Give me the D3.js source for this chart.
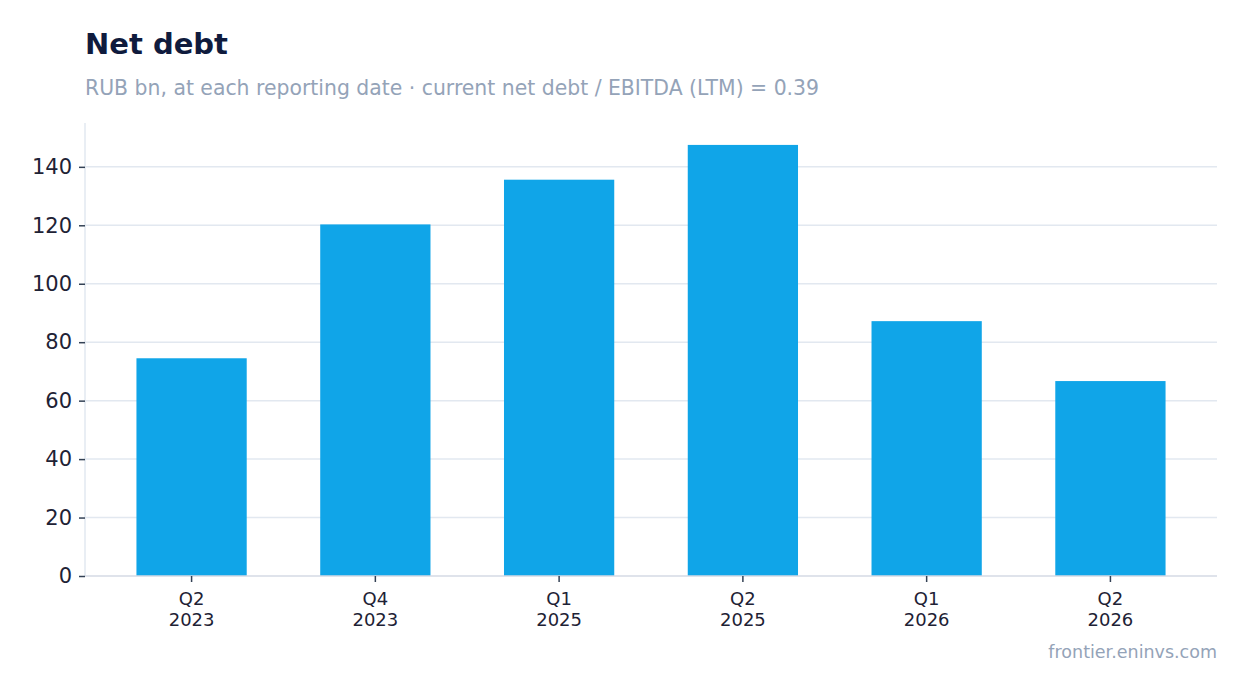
<!DOCTYPE html>
<head>
    <title>Net debt</title>
</head>
<meta charset="utf-8">

<script src="https://d3js.org/d3.v7.min.js"></script>

<style>
  body { margin: 0; background: #fff; }
  text { font-family: "DejaVu Sans", sans-serif; }
</style>

<div id="my_dataviz"></div>
<body>
    <script>

    var quarters = ["Q2", "Q4", "Q1", "Q2", "Q1", "Q2"]
    var years = ["2023", "2023", "2025", "2025", "2026", "2026"]
    var netDebt = [74.5, 120.3, 135.6, 147.5, 87.2, 66.7]
    var yTicks = [0, 20, 40, 60, 80, 100, 120, 140]

    var margin = {top: 123, right: 30, bottom: 117, left: 85},
      width = 1247 - margin.left - margin.right,
      height = 693 - margin.top - margin.bottom;

    var root = d3.select("#my_dataviz")
    .append("svg")
      .attr("width", 1247)
      .attr("height", 693)

    var svg = root.append("g")
      .attr("transform", "translate(" + margin.left + "," + margin.top + ")");

    var keys = netDebt.map(function(d, i) { return i })

    var x = d3.scaleBand()
      .domain(keys)
      .range([0, width])
      .paddingInner(0.4)
      .paddingOuter(0.28)

    var y = d3.scaleLinear()
      .domain([0, 155])
      .range([height, 0])

    // gridlines
    svg.selectAll("grid")
      .data(yTicks.filter(function(t) { return t > 0 }))
      .enter()
      .append("line")
        .attr("x1", 0)
        .attr("x2", width)
        .attr("y1", function(d) { return y(d) })
        .attr("y2", function(d) { return y(d) })
        .style("stroke", "#e2e8f0")
        .style("stroke-width", 1.5)

    // left axis line
    svg.append("line")
      .attr("x1", 0).attr("x2", 0)
      .attr("y1", 0).attr("y2", height)
      .style("stroke", "#e2e8f0")
      .style("stroke-width", 1.5)

    svg.selectAll("myBars")
      .data(netDebt)
      .enter()
      .append("rect")
        .attr("x", function(d, i) { return x(i) })
        .attr("y", function(d) { return y(d) })
        .attr("width", x.bandwidth())
        .attr("height", function(d) { return height - y(d) })
        .style("fill", "#10a5e8")

    // bottom axis line
    svg.append("line")
      .attr("x1", 0).attr("x2", width)
      .attr("y1", height).attr("y2", height)
      .style("stroke", "#d5dae4")
      .style("stroke-width", 1.5)

    var yAxis = svg.append("g")
      .call(d3.axisLeft(y).tickValues(yTicks).tickSize(6).tickPadding(7))
    yAxis.select(".domain").remove()
    yAxis.selectAll(".tick line").style("stroke", "#334155").style("stroke-width", 1.5)
    yAxis.selectAll(".tick text")
      .style("font-size", "21px")
      .style("fill", "#1e2235")
      .style("font-family", "DejaVu Sans")

    var xAxis = svg.append("g")
      .attr("transform", "translate(0," + height + ")")
      .call(d3.axisBottom(x).tickSize(6).tickFormat(""))
    xAxis.select(".domain").remove()
    xAxis.selectAll(".tick text").remove()
    xAxis.selectAll(".tick line").style("stroke", "#334155").style("stroke-width", 1.5)

    xAxis.selectAll(".tick").each(function(d) {
      var g = d3.select(this)
      g.append("text").attr("y", 29).attr("text-anchor", "middle")
        .style("font-size", "18px").style("fill", "#1e2235").text(quarters[d])
      g.append("text").attr("y", 50).attr("text-anchor", "middle")
        .style("font-size", "18px").style("fill", "#1e2235").text(years[d])
    })

    root.append("text")
      .attr("x", 85)
      .attr("y", 54)
      .text("Net debt")
      .style("font-size", "29px")
      .style("font-weight", "bold")
      .style("fill", "#0f1b3d")

    root.append("text")
      .attr("x", 85)
      .attr("y", 95)
      .text("RUB bn, at each reporting date · current net debt / EBITDA (LTM) = 0.39")
      .style("font-size", "20.4px")
      .style("fill", "#94a3b8")

    root.append("text")
      .attr("x", 1217)
      .attr("y", 658)
      .attr("text-anchor", "end")
      .text("frontier.eninvs.com")
      .style("font-size", "17.5px")
      .style("fill", "#94a3b8")

</script>
</body>
